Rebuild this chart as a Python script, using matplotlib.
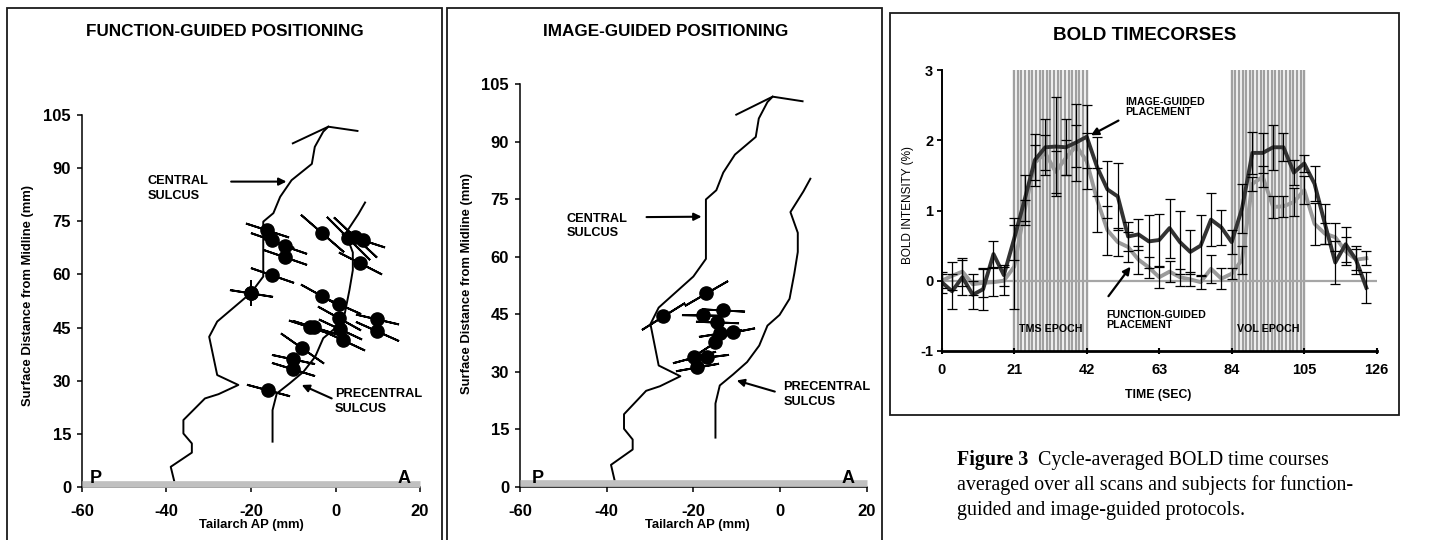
import numpy as np
import matplotlib
matplotlib.use('Agg')
import matplotlib.pyplot as plt
from matplotlib.patches import Rectangle

plt.rcParams['font.family'] = ['Liberation Sans', 'DejaVu Sans']
plt.rcParams['axes.unicode_minus'] = False

# ---------------- data ----------------
# sulcus traces shared by both positioning maps (Tailarch AP mm, surface distance mm)
cs_x = [-38.2, -39.0, -34.0, -34.0, -36.0, -36.0, -30.9, -27.7, -23.0, -28.0, -29.9,
        -28.0, -20.0, -17.1, -17.1, -14.7, -13.1, -10.4, -5.6, -4.9, -2.9, -1.7]
cs_y = [1.8, 5.7, 9.7, 12.3, 15.1, 18.9, 25.0, 26.2, 28.8, 31.6, 42.4,
        46.7, 54.8, 59.4, 74.9, 77.3, 81.9, 86.6, 91.2, 96.0, 100.3, 101.7]
cap_x = [-10.1, -1.7, 5.2]
cap_y = [97.0, 101.7, 100.5]
pcs_x = [-14.9, -14.9, -13.9, -10.8, -7.6, -4.8, -2.9, -0.1, 2.2, 3.3, 4.1, 4.1, 2.4, 5.4, 7.0]
pcs_y = [12.8, 21.7, 26.4, 29.3, 32.5, 36.8, 42.0, 44.8, 49.0, 55.6, 61.2, 66.2, 71.6, 77.0, 80.3]

# function-guided coil positions and orientation (deg)
f_x = [-16.3, -15.1, -12.0, -12.0, -15.1, -20.0, -20.0, -3.2, 3.0, 4.6, 6.6, 5.8, -3.2, 0.8,
       9.9, 9.9, 0.8, 1.0, 1.8, -6.0, -5.0, -8.0, -10.1, -10.1, -16.0]
f_y = [72.4, 69.8, 67.9, 64.9, 59.8, 54.7, 54.7, 71.6, 70.2, 70.6, 69.7, 63.1, 53.9, 51.6,
       47.4, 44.0, 47.6, 44.5, 41.5, 45.1, 45.2, 39.1, 36.0, 33.4, 27.4]
f_ang = [-18, -19, -19, -19, -19, -9, 90, -41, -45, -43, -18, -27, -29, -24,
         -13, -24, -29, -25, -25, -18, -17, -35, -12, -17, -15]

# image-guided coil positions and orientation (deg)
g_x = [-17.1, -26.9, -17.7, -13.1, -14.6, -13.8, -10.9, -15.0, -19.8, -16.9, -19.1]
g_y = [50.4, 44.5, 44.8, 46.1, 43.0, 40.0, 40.3, 37.8, 33.8, 33.8, 31.3]
g_ang = [30, 32, -1, -3, -2, 9, 11, 33, 15, 7, 10]

ap_ticks = [-60, -40, -20, 0, 20]
sd_ticks = [0, 15, 30, 45, 60, 75, 90, 105]

# BOLD time courses
time_s = [0, 3, 6, 9, 12, 15, 18, 21, 24, 27, 30, 33, 36, 39, 42, 45, 48, 51, 54, 57, 60,
          63, 66, 69, 72, 75, 78, 81, 84, 87, 90, 93, 96, 99, 102, 105, 108, 111, 114, 117, 120, 123]
bold_img = [-0.02, -0.15, 0.05, -0.2, -0.12, 0.38, 0.08, 0.6, 1.15, 1.72, 1.9, 1.91, 1.9, 1.97,
            2.05, 1.62, 1.3, 1.2, 0.63, 0.66, 0.56, 0.58, 0.75, 0.55, 0.41, 0.5, 0.87, 0.76,
            0.55, 1.03, 1.82, 1.82, 1.9, 1.9, 1.54, 1.67, 1.38, 0.81, 0.26, 0.52, 0.3, -0.1]
err_img = [0.15, 0.25, 0.25, 0.2, 0.3, 0.18, 0.15, 0.3, 0.35, 0.37, 0.4, 0.7, 0.4, 0.55,
           0.45, 0.42, 0.4, 0.48, 0.2, 0.22, 0.38, 0.37, 0.42, 0.45, 0.31, 0.43, 0.38, 0.25,
           0.17, 0.35, 0.3, 0.28, 0.32, 0.2, 0.18, 0.12, 0.25, 0.28, 0.3, 0.25, 0.2, 0.22]
bold_fun = [0.0, 0.07, 0.13, -0.05, -0.03, -0.02, 0.0, 0.2, 1.0, 1.68, 1.82, 1.55, 1.75, 1.92,
            1.7, 1.15, 0.72, 0.55, 0.48, 0.3, 0.19, 0.05, 0.13, 0.05, 0.02, -0.02, 0.17, 0.03,
            0.1, 0.3, 1.38, 1.48, 1.05, 1.06, 1.12, 1.29, 0.81, 0.67, 0.62, 0.42, 0.3, 0.32]
err_fun = [0.1, 0.2, 0.2, 0.15, 0.2, 0.2, 0.2, 0.6, 0.15, 0.25, 0.25, 0.3, 0.25, 0.3,
           0.4, 0.45, 0.35, 0.2, 0.22, 0.2, 0.15, 0.15, 0.15, 0.12, 0.1, 0.1, 0.2, 0.15,
           0.08, 0.2, 0.1, 0.15, 0.15, 0.15, 0.2, 0.2, 0.3, 0.15, 0.2, 0.2, 0.15, 0.1]
epochs = [(21, 42), (84, 105)]
epoch_names = ['TMS EPOCH', 'VOL EPOCH']
t_ticks = [0, 21, 42, 63, 84, 105, 126]
b_ticks = [-1, 0, 1, 2, 3]

# ---------------- figure ----------------
W, H = 1440, 540
fig = plt.figure(figsize=(W / 100, H / 100), dpi=100)


def fx(px):
    return px / W


def fy(py):
    return 1 - py / H


def ftext(px, py, s, **kw):
    return fig.text(fx(px), fy(py), s, **kw)


def box(x0, y0, x1, y1):
    fig.add_artist(Rectangle((fx(x0), fy(y1)), (x1 - x0) / W, (y1 - y0) / H,
                             transform=fig.transFigure, fill=False, lw=1.3, ec='#1a1a1a'))


box(7, 7.5, 441.5, 560)
box(447, 7.5, 882, 560)
box(890, 12.5, 1399, 415)


def axes_px(x0, y0, x1, y1):
    return fig.add_axes([fx(x0), fy(y1), (x1 - x0) / W, (y1 - y0) / H])


def map_panel(ax, dx, dy, dang, title, tx, ylab_x, ylab_y, xlab_x,
              cs_lab, cs_arrow, pcs_lab, pcs_arrow, pa_x):
    ax.set_xlim(-60, 20)
    ax.set_ylim(0, 105)
    for s in ['top', 'right']:
        ax.spines[s].set_visible(False)
    for s in ['left', 'bottom']:
        ax.spines[s].set_linewidth(1.1)
    ax.set_xticks(ap_ticks)
    ax.set_yticks(sd_ticks)
    ax.tick_params(axis='both', direction='out', length=3.5, width=1.1, labelsize=12)
    ax.tick_params(axis='x', pad=9)
    ax.tick_params(axis='y', pad=4.4)
    for lbl in ax.get_xticklabels() + ax.get_yticklabels():
        lbl.set_fontweight('bold')
    ax.patch.set_visible(False)
    # baseline bar
    ax.plot([-60, 20], [0.9, 0.9], color='#c0c0c0', lw=4.8, solid_capstyle='butt',
            clip_on=False, zorder=3)
    ax.text(pa_x[0], 1.0, 'P', fontsize=13, fontweight='bold', ha='center', va='baseline', zorder=4)
    ax.text(pa_x[1], 1.0, 'A', fontsize=13, fontweight='bold', ha='center', va='baseline', zorder=4)
    # sulci
    ax.plot(cs_x, cs_y, color='black', lw=1.4, zorder=2)
    ax.plot(cap_x, cap_y, color='black', lw=1.4, zorder=2)
    ax.plot(pcs_x, pcs_y, color='black', lw=1.4, zorder=2)
    # coil orientation lines and positions
    for x, y, a in zip(dx, dy, dang):
        L = 19 if abs(a) > 60 else 31 / np.cos(np.radians(a))
        ax.plot([x], [y], ls='none', marker=(2, 2, a - 90), ms=L, mew=1.4,
                color='black', zorder=3)
    ax.plot(dx, dy, 'o', ms=9.5, color='black', zorder=4)
    # labels
    ax.text(cs_lab[0], cs_lab[1], 'CENTRAL\nSULCUS', fontsize=9.2, fontweight='bold',
            ha='left', va='center', linespacing=1.3)
    ax.annotate('', xy=cs_arrow[2:], xytext=cs_arrow[:2],
                arrowprops=dict(arrowstyle='-|>', color='black', lw=1.5, mutation_scale=11,
                                shrinkA=0, shrinkB=0))
    ax.text(pcs_lab[0], pcs_lab[1], 'PRECENTRAL\nSULCUS', fontsize=9.2, fontweight='bold',
            ha='left', va='center', linespacing=1.3)
    ax.annotate('', xy=pcs_arrow[2:], xytext=pcs_arrow[:2],
                arrowprops=dict(arrowstyle='-|>', color='black', lw=1.5, mutation_scale=11,
                                shrinkA=0, shrinkB=0))
    ftext(tx, 32, title, fontsize=12.3, fontweight='bold', ha='center', va='center')
    ftext(ylab_x, ylab_y, 'Surface Distance from Midline (mm)', fontsize=9.4, fontweight='bold',
          rotation=90, ha='center', va='center')
    ftext(xlab_x, 525, 'Tailarch AP (mm)', fontsize=9.4, fontweight='bold', ha='center', va='center')


ax1 = axes_px(82, 115, 420, 487)
map_panel(ax1, f_x, f_y, f_ang, 'FUNCTION-GUIDED POSITIONING', 225, 28, 295, 251,
          (-44.4, 84.2), (-24.7, 86.2, -11.6, 86.2),
          (-0.1, 24.05), (-0.9, 25.0, -8.0, 28.8), (-56.7, 16.2))

ax2 = axes_px(520, 84, 866.7, 486.7)
map_panel(ax2, g_x, g_y, g_ang, 'IMAGE-GUIDED POSITIONING', 666, 467, 283, 697,
          (-49.2, 68.0), (-30.8, 70.3, -18.1, 70.4),
          (0.8, 24.0), (-1.2, 24.8, -10.0, 27.7), (-55.8, 15.8))

# ---------------- BOLD time courses ----------------
ax3 = axes_px(941.7, 70, 1376.7, 351)
ax3.set_xlim(0, 126)
ax3.set_ylim(-1, 3)
for s in ['top', 'right']:
    ax3.spines[s].set_visible(False)
ax3.spines['left'].set_linewidth(1.4)
ax3.spines['bottom'].set_linewidth(2.0)
ax3.set_xticks(t_ticks)
ax3.set_yticks(b_ticks)
ax3.tick_params(axis='x', direction='inout', length=5, width=1.5, labelsize=10.5, pad=6.3)
ax3.tick_params(axis='y', direction='out', length=3.4, width=1.3, labelsize=10.5, pad=2.7)
for lbl in ax3.get_xticklabels() + ax3.get_yticklabels():
    lbl.set_fontweight('bold')

for (s, e), name in zip(epochs, epoch_names):
    ax3.vlines(np.linspace(s, e, 21), -1, 3, colors='#a0a0a0', lw=1.7, zorder=0)
    ax3.text((s + e) / 2, -0.68, name, fontsize=7.7, fontweight='bold', ha='center',
             va='center', zorder=5)
ax3.axhline(0, color='#a6a6a6', lw=1.6, zorder=1)
ax3.plot(time_s, bold_fun, color='#9a9a9a', lw=2.8, zorder=3)
ax3.plot(time_s, bold_img, color='#333333', lw=2.8, zorder=3.5)
ax3.errorbar(time_s, bold_fun, yerr=err_fun, fmt='none', ecolor='black', elinewidth=0.9,
             capsize=3.5, capthick=0.9, zorder=4)
ax3.errorbar(time_s, bold_img, yerr=err_img, fmt='none', ecolor='black', elinewidth=0.9,
             capsize=3.5, capthick=0.9, zorder=4)

ax3.text(53.1, 2.47, 'IMAGE-GUIDED\nPLACEMENT', fontsize=7.7, fontweight='bold',
         ha='left', va='center', linespacing=1.05)
ax3.annotate('', xy=(43.2, 2.07), xytext=(51.2, 2.28),
             arrowprops=dict(arrowstyle='-|>', color='black', lw=1.6, mutation_scale=11,
                             shrinkA=0, shrinkB=0))
ax3.text(47.8, -0.555, 'FUNCTION-GUIDED\nPLACEMENT', fontsize=7.7, fontweight='bold',
         ha='left', va='center', linespacing=1.05)
ax3.annotate('', xy=(54.7, 0.2), xytext=(48.3, -0.22),
             arrowprops=dict(arrowstyle='-|>', color='black', lw=1.6, mutation_scale=11,
                             shrinkA=0, shrinkB=0))

ftext(1145, 35, 'BOLD TIMECORSES', fontsize=13.6, fontweight='bold', ha='center', va='center')
ftext(908, 205, 'BOLD INTENSITY (%)', fontsize=8.5, rotation=90, ha='center', va='center')
ftext(1158, 395, 'TIME (SEC)', fontsize=8.8, fontweight='bold', ha='center', va='center')

# caption
serif = ['Liberation Serif', 'DejaVu Serif']
t1 = ftext(957, 465, 'Figure 3', fontsize=14.4, fontweight='bold', family=serif,
           ha='left', va='baseline')
ax3.annotate('  Cycle-averaged BOLD time courses', xy=(1, 0), xycoords=t1,
             fontsize=14.4, family=serif, ha='left', va='bottom', annotation_clip=False)
ftext(957, 490, 'averaged over all scans and subjects for function-', fontsize=14.4,
      family=serif, ha='left', va='baseline')
ftext(957, 515, 'guided and image-guided protocols.', fontsize=14.4,
      family=serif, ha='left', va='baseline')

fig.savefig('out.png', dpi=100)
